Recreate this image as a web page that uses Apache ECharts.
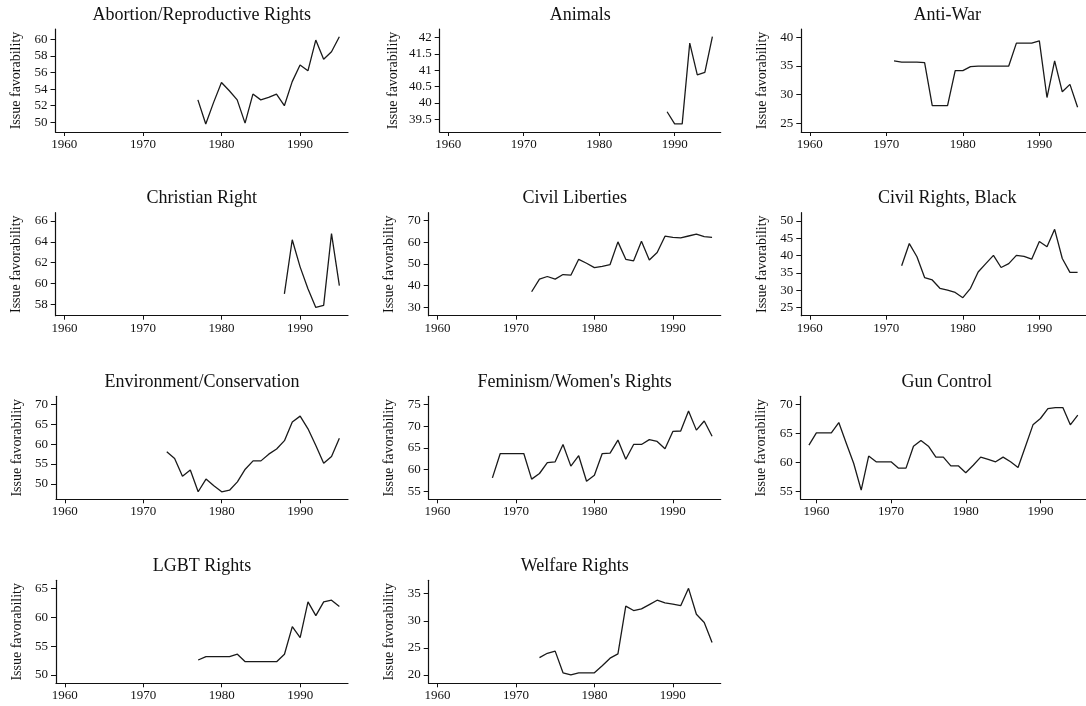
<!DOCTYPE html>
<html>
<head>
<meta charset="utf-8">
<script src="https://cdn.jsdelivr.net/npm/echarts@6/dist/echarts.min.js"></script>
<style>
html,body{margin:0;padding:0;background:#fff;}
#chart{width:1086px;height:706px;}
</style>
</head>
<body>
<div id="chart"></div>
<script>
// ---------------- DATA ----------------
const xTickYears = [1960, 1970, 1980, 1990];
const yAxisTitle = 'Issue favorability';

const abortionTitle = 'Abortion/Reproductive Rights';
const abortionYears = [1977,1978,1979,1980,1981,1982,1983,1984,1985,1986,1987,1988,1989,1990,1991,1992,1993,1994,1995];
const abortionValues = [52.7,49.8,52.4,54.8,53.8,52.7,49.9,53.4,52.7,53.0,53.4,52.0,54.9,56.9,56.2,59.9,57.6,58.5,60.3];
const abortionTicks = [50,52,54,56,58,60];

const animalsTitle = 'Animals';
const animalsYears = [1989,1990,1991,1992,1993,1994,1995];
const animalsValues = [39.73,39.36,39.36,41.83,40.86,40.93,42.03];
const animalsTicks = [39.5,40,40.5,41,41.5,42];

const antiWarTitle = 'Anti-War';
const antiWarYears = [1971,1972,1973,1974,1975,1976,1977,1978,1979,1980,1981,1982,1983,1984,1985,1986,1987,1988,1989,1990,1991,1992,1993,1994,1995];
const antiWarValues = [35.9,35.7,35.7,35.7,35.6,28.1,28.1,28.1,34.2,34.2,34.9,35.0,35.0,35.0,35.0,35.0,39.0,39.0,39.0,39.4,29.5,35.9,30.5,31.8,27.8];
const antiWarTicks = [25,30,35,40];

const christianTitle = 'Christian Right';
const christianYears = [1988,1989,1990,1991,1992,1993,1994,1995];
const christianValues = [59.0,64.2,61.6,59.5,57.7,57.9,64.8,59.8];
const christianTicks = [58,60,62,64,66];

const civLibTitle = 'Civil Liberties';
const civLibYears = [1972,1973,1974,1975,1976,1977,1978,1979,1980,1981,1982,1983,1984,1985,1986,1987,1988,1989,1990,1991,1992,1993,1994,1995];
const civLibValues = [37.2,43.0,44.2,43.0,45.1,44.8,52.1,50.3,48.3,48.9,49.7,60.1,52.1,51.4,60.4,51.8,55.2,62.7,62.2,61.9,62.8,63.7,62.5,62.2];
const civLibTicks = [30,40,50,60,70];

const civRightsTitle = 'Civil Rights, Black';
const civRightsYears = [1972,1973,1974,1975,1976,1977,1978,1979,1980,1981,1982,1983,1984,1985,1986,1987,1988,1989,1990,1991,1992,1993,1994,1995];
const civRightsValues = [37.1,43.5,39.7,33.7,33.0,30.6,30.1,29.4,27.9,30.6,35.3,37.7,40.1,36.6,37.7,40.1,39.8,39.0,44.1,42.6,47.6,39.2,35.2,35.2];
const civRightsTicks = [25,30,35,40,45,50];

const envTitle = 'Environment/Conservation';
const envYears = [1973,1974,1975,1976,1977,1978,1979,1980,1981,1982,1983,1984,1985,1986,1987,1988,1989,1990,1991,1992,1993,1994,1995];
const envValues = [58.1,56.4,51.9,53.5,48.0,51.2,49.5,48.0,48.4,50.5,53.7,55.8,55.8,57.5,58.8,60.9,65.6,67.1,63.9,59.7,55.2,56.9,61.5];
const envTicks = [50,55,60,65,70];

const femTitle = "Feminism/Women's Rights";
const femYears = [1967,1968,1969,1970,1971,1972,1973,1974,1975,1976,1977,1978,1979,1980,1981,1982,1983,1984,1985,1986,1987,1988,1989,1990,1991,1992,1993,1994,1995];
const femValues = [58.1,63.7,63.7,63.7,63.7,57.8,59.1,61.6,61.8,65.8,60.8,63.2,57.3,58.7,63.7,63.8,66.8,62.4,65.8,65.8,66.9,66.5,64.8,68.8,68.9,73.5,69.1,71.2,67.7];
const femTicks = [55,60,65,70,75];

const gunTitle = 'Gun Control';
const gunYears = [1959,1960,1961,1962,1963,1964,1965,1966,1967,1968,1969,1970,1971,1972,1973,1974,1975,1976,1977,1978,1979,1980,1981,1982,1983,1984,1985,1986,1987,1988,1989,1990,1991,1992,1993,1994,1995];
const gunValues = [63.0,65.1,65.1,65.1,66.9,63.3,59.8,55.2,61.1,60.1,60.1,60.1,59.0,59.0,62.8,63.8,62.8,60.9,60.9,59.4,59.4,58.2,59.5,60.9,60.5,60.1,60.9,60.1,59.1,62.8,66.5,67.6,69.3,69.5,69.5,66.5,68.2];
const gunTicks = [55,60,65,70];

const lgbtTitle = 'LGBT Rights';
const lgbtYears = [1977,1978,1979,1980,1981,1982,1983,1984,1985,1986,1987,1988,1989,1990,1991,1992,1993,1994,1995];
const lgbtValues = [52.6,53.2,53.2,53.2,53.2,53.6,52.3,52.3,52.3,52.3,52.3,53.6,58.4,56.5,62.7,60.3,62.7,63.0,61.9];
const lgbtTicks = [50,55,60,65];

const welfareTitle = 'Welfare Rights';
const welfareYears = [1973,1974,1975,1976,1977,1978,1979,1980,1981,1982,1983,1984,1985,1986,1987,1988,1989,1990,1991,1992,1993,1994,1995];
const welfareValues = [23.2,24.0,24.4,20.4,20.0,20.4,20.4,20.4,21.7,23.1,23.9,32.7,31.9,32.2,33.0,33.8,33.3,33.1,32.8,36.0,31.2,29.7,26.0];
const welfareTicks = [20,25,30,35];

// ---------------- LAYOUT ----------------
const FONT = '"Liberation Serif", "Times New Roman", Times, serif';
const INK = '#111';
const rowTop = [29, 212.7, 396.3, 580.3];
const plotH = 103;
const panels = [
  {title: abortionTitle, years: abortionYears, values: abortionValues, ticks: abortionTicks, yMin: 48.83, yMax: 61.24, row: 0, left: 55.5, width: 292.5},
  {title: animalsTitle, years: animalsYears, values: animalsValues, ticks: animalsTicks, yMin: 39.11, yMax: 42.26, row: 0, left: 439.7, width: 281, nameGap: 39},
  {title: antiWarTitle, years: antiWarYears, values: antiWarValues, ticks: antiWarTicks, yMin: 23.48, yMax: 41.47, row: 0, left: 801.3, width: 292},
  {title: christianTitle, years: christianYears, values: christianValues, ticks: christianTicks, yMin: 56.91, yMax: 66.8, row: 1, left: 55.7, width: 292.3},
  {title: civLibTitle, years: civLibYears, values: civLibValues, ticks: civLibTicks, yMin: 26.2, yMax: 73.5, row: 1, left: 428.7, width: 292},
  {title: civRightsTitle, years: civRightsYears, values: civRightsValues, ticks: civRightsTicks, yMin: 22.7, yMax: 52.4, row: 1, left: 801.3, width: 292},
  {title: envTitle, years: envYears, values: envValues, ticks: envTicks, yMin: 46.1, yMax: 72.1, row: 2, left: 56, width: 292},
  {title: femTitle, years: femYears, values: femValues, ticks: femTicks, yMin: 53.15, yMax: 76.9, row: 2, left: 428.7, width: 292},
  {title: gunTitle, years: gunYears, values: gunValues, ticks: gunTicks, yMin: 53.6, yMax: 71.45, row: 2, left: 800.7, width: 292, xMin: 1957.9},
  {title: lgbtTitle, years: lgbtYears, values: lgbtValues, ticks: lgbtTicks, yMin: 48.55, yMax: 66.45, row: 3, left: 56, width: 292},
  {title: welfareTitle, years: welfareYears, values: welfareValues, ticks: welfareTicks, yMin: 18.46, yMax: 37.48, row: 3, left: 428.7, width: 292}
];

const option = {
  backgroundColor: '#fff',
  animation: false,
  title: [], grid: [], xAxis: [], yAxis: [], series: []
};

panels.forEach((p, i) => {
  const top = rowTop[p.row];
  option.title.push({
    text: p.title,
    left: p.left + p.width / 2,
    top: top - 23,
    textAlign: 'center',
    padding: 0,
    textStyle: {fontFamily: FONT, fontSize: 18, fontWeight: 'normal', color: INK}
  });
  option.grid.push({left: p.left, top: top, width: p.width, height: plotH, containLabel: false});
  option.xAxis.push({
    type: 'value', gridIndex: i,
    min: p.xMin !== undefined ? p.xMin : 1958.88, max: 1996.1,
    axisLine: {show: true, onZero: false, lineStyle: {color: INK, width: 1.2}},
    axisTick: {show: true, length: 4, customValues: xTickYears, lineStyle: {color: INK, width: 1}},
    axisLabel: {show: true, customValues: xTickYears, margin: 6, fontFamily: FONT, fontSize: 13, color: INK, formatter: v => String(v)},
    splitLine: {show: false}
  });
  option.yAxis.push({
    type: 'value', gridIndex: i,
    min: p.yMin, max: p.yMax,
    name: yAxisTitle, nameLocation: 'middle', nameRotate: 90, nameGap: p.nameGap || 32,
    nameTextStyle: {fontFamily: FONT, fontSize: 14, color: INK},
    axisLine: {show: true, onZero: false, lineStyle: {color: INK, width: 1.2}},
    axisTick: {show: true, length: 5, customValues: p.ticks, lineStyle: {color: INK, width: 1}},
    axisLabel: {show: true, customValues: p.ticks, margin: 8, fontFamily: FONT, fontSize: 13, color: INK},
    splitLine: {show: false}
  });
  option.series.push({
    type: 'line', xAxisIndex: i, yAxisIndex: i,
    data: p.years.map((y, k) => [y, p.values[k]]),
    showSymbol: false, symbol: 'none',
    lineStyle: {color: '#1a1a1a', width: 1.3},
    clip: false
  });
});

const chart = echarts.init(document.getElementById('chart'), null, {renderer: 'canvas'});
chart.setOption(option);
</script>
</body>
</html>
